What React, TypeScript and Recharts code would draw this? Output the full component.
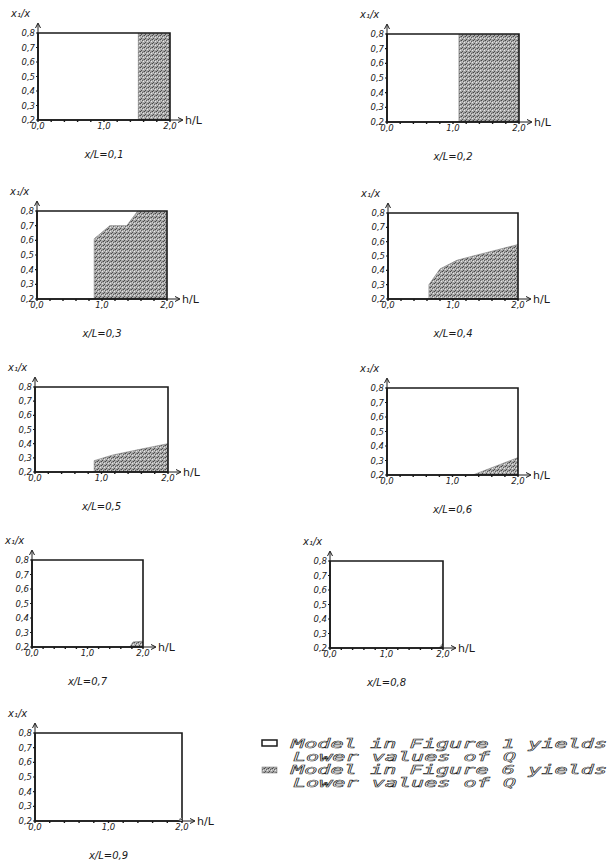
import { AreaChart, Area, XAxis, YAxis, ReferenceArea } from 'recharts';

// h/L ticks (every 0.2, labelled at 0, 1, 2) and x1/x ticks
const hTicks = [0, 0.2, 0.4, 0.6, 0.8, 1.0, 1.2, 1.4, 1.6, 1.8, 2.0];
const hLabelled = [0, 1, 2];
const ratioTicks = [0.2, 0.3, 0.4, 0.5, 0.6, 0.7, 0.8];
const xOverL = ['0,1', '0,2', '0,3', '0,4', '0,5', '0,6', '0,7', '0,8', '0,9'];

// shaded region boundary per panel: h/L and upper x1/x value
const p1H = [1.52, 1.52, 2.0];
const p1V = [0.2, 0.8, 0.8];
const p2H = [1.09, 1.09, 2.0];
const p2V = [0.2, 0.8, 0.8];
const p3H = [0.88, 0.88, 1.12, 1.38, 1.55, 2.0];
const p3V = [0.2, 0.61, 0.7, 0.7, 0.8, 0.8];
const p4H = [0.63, 0.63, 0.8, 1.06, 1.31, 1.57, 2.0];
const p4V = [0.2, 0.3, 0.41, 0.47, 0.5, 0.53, 0.58];
const p5H = [0.89, 0.89, 1.17, 1.58, 2.0];
const p5V = [0.2, 0.28, 0.32, 0.36, 0.4];
const p6H = [1.31, 2.0];
const p6V = [0.2, 0.32];
const p7H = [1.76, 1.82, 2.0];
const p7V = [0.2, 0.235, 0.24];
const p8H = [1.93, 2.0];
const p8V = [0.2, 0.235];
// x/L = 0,9: boundary stays on the bottom, nothing shaded
const p9H = [2.0];
const p9V = [0.2];

const shadeH = [p1H, p2H, p3H, p4H, p5H, p6H, p7H, p8H, p9H];
const shadeV = [p1V, p2V, p3V, p4V, p5V, p6V, p7V, p8V, p9V];

const legendLines = [
  'Model in Figure 1 yields',
  'Lower values of Q',
  'Model in Figure 6 yields',
  'Lower values of Q',
];

// plot box placement on the page: left, top, width, height
const boxes = [
  [38, 33, 132, 87],
  [387, 34, 132, 88],
  [37, 211, 130, 88],
  [388, 213, 130, 86],
  [35, 387, 133, 85],
  [387, 388, 131, 87],
  [32, 560, 111, 87],
  [330, 561, 113, 87],
  [35, 733, 147, 88],
];

const ML = 30;
const MT = 26;
const MR = 50;
const MB = 46;
const FONT = '"DejaVu Sans", sans-serif';
const MONO = '"DejaVu Sans Mono", monospace';
const INK = '#1a1a1a';
const PITCH = 13.3;

const fmt = (n: number) => n.toFixed(1).replace('.', ',');

function Stipple({ id }: { id: string }) {
  return (
    <defs>
      <pattern id={id} width="4" height="4" patternUnits="userSpaceOnUse">
        <rect width="4" height="4" fill="#a9a9a9" />
        <rect x="0" y="0" width="1" height="1" fill="#474747" />
        <rect x="2" y="1" width="1" height="1" fill="#5e5e5e" />
        <rect x="1" y="3" width="1" height="1" fill="#4f4f4f" />
        <rect x="3" y="2" width="1" height="1" fill="#e6e6e6" />
        <rect x="3" y="0" width="1" height="1" fill="#838383" />
        <rect x="1" y="1" width="1" height="1" fill="#d2d2d2" />
      </pattern>
    </defs>
  );
}

function Panel({ idx }: { idx: number }) {
  const [bl, bt, bw, bh] = boxes[idx];
  const data = shadeH[idx].map((h, i) => ({ h, v: shadeV[idx][i] }));
  const W = bw + ML + MR;
  const H = bh + MT + MB;
  const right = ML + bw;
  const bottom = MT + bh;
  return (
    <div style={{ position: 'absolute', left: bl - ML, top: bt - MT, width: W, height: H }}>
      <AreaChart
        width={W}
        height={H}
        data={data}
        margin={{ top: MT, right: MR, bottom: MB - 16, left: ML - 24 }}
      >
        <Stipple id={`stip${idx}`} />
        <XAxis
          type="number"
          dataKey="h"
          domain={[0, 2]}
          allowDataOverflow
          ticks={hTicks}
          height={16}
          interval={0}
          tickSize={2}
          tickMargin={1}
          tickFormatter={(v: number) => (hLabelled.includes(v) ? fmt(v) : '')}
          axisLine={{ stroke: INK, strokeWidth: 1.6 }}
          tickLine={{ stroke: INK, strokeWidth: 1.4 }}
          tick={{ fontSize: 8.5, fontStyle: 'italic', fontFamily: FONT, fill: INK }}
        />
        <YAxis
          type="number"
          domain={[0.2, 0.8]}
          allowDataOverflow
          ticks={ratioTicks}
          width={24}
          interval={0}
          tickSize={2}
          tickMargin={1}
          tickFormatter={fmt}
          axisLine={{ stroke: INK, strokeWidth: 1.6 }}
          tickLine={{ stroke: INK, strokeWidth: 1.2 }}
          tick={{ fontSize: 8.5, fontStyle: 'italic', fontFamily: FONT, fill: INK }}
        />
        <Area
          type="linear"
          dataKey="v"
          stroke="#777"
          strokeWidth={0.6}
          fill={`url(#stip${idx})`}
          fillOpacity={1}
          isAnimationActive={false}
          dot={false}
          activeDot={false}
        />
        <ReferenceArea
          x1={0}
          x2={2}
          y1={0.2}
          y2={0.8}
          fill="none"
          stroke={INK}
          strokeWidth={1.6}
          ifOverflow="visible"
        />
      </AreaChart>
      <svg
        width={W}
        height={H}
        style={{ position: 'absolute', left: 0, top: 0, pointerEvents: 'none' }}
        fontFamily={FONT}
        fontStyle="italic"
        fill={INK}
      >
        <text x={ML - 27} y={MT - 16} fontSize={10}>
          x₁/x
        </text>
        <line x1={ML} y1={MT} x2={ML} y2={MT - 9} stroke={INK} strokeWidth={1} />
        <path d={`M${ML - 2.5},${MT - 5} L${ML},${MT - 10} L${ML + 2.5},${MT - 5}`} fill="none" stroke={INK} strokeWidth={1} />
        <line x1={right} y1={bottom} x2={right + 12} y2={bottom} stroke={INK} strokeWidth={1} />
        <path d={`M${right + 8},${bottom - 2.5} L${right + 13},${bottom} L${right + 8},${bottom + 2.5}`} fill="none" stroke={INK} strokeWidth={1} />
        <text x={right + 15} y={bottom + 4} fontSize={11} fontStyle="normal">
          h/L
        </text>
        <text x={ML + bw / 2} y={bottom + 38} fontSize={10} textAnchor="middle">
          {`x/L=${xOverL[idx]}`}
        </text>
      </svg>
    </div>
  );
}

export default function App() {
  return (
    <div style={{ position: 'absolute', left: 0, top: 0, width: 613, height: 866, background: '#fff', overflow: 'hidden' }}>
      {boxes.map((_, i) => (
        <Panel key={i} idx={i} />
      ))}
      <svg width={613} height={866} style={{ position: 'absolute', left: 0, top: 0 }}>
        <Stipple id="stipLegend" />
        <rect x={262} y={740} width={15} height={6} fill="#fff" stroke={INK} strokeWidth={1.5} />
        <rect x={262} y={767} width={15} height={6} fill="url(#stipLegend)" stroke="#888" strokeWidth={0.6} />
        <g fontFamily={MONO} fontStyle="italic" fontSize={12} fill="#fff" stroke="#222" strokeWidth={0.5}>
          {legendLines.map((t, i) => (
            <text
              key={i}
              x={i % 2 === 0 ? 291 : 293}
              y={747.5 + i * 13.3}
              textLength={t.length * PITCH - 3}
              lengthAdjust="spacingAndGlyphs"
            >
              {t}
            </text>
          ))}
        </g>
      </svg>
    </div>
  );
}
